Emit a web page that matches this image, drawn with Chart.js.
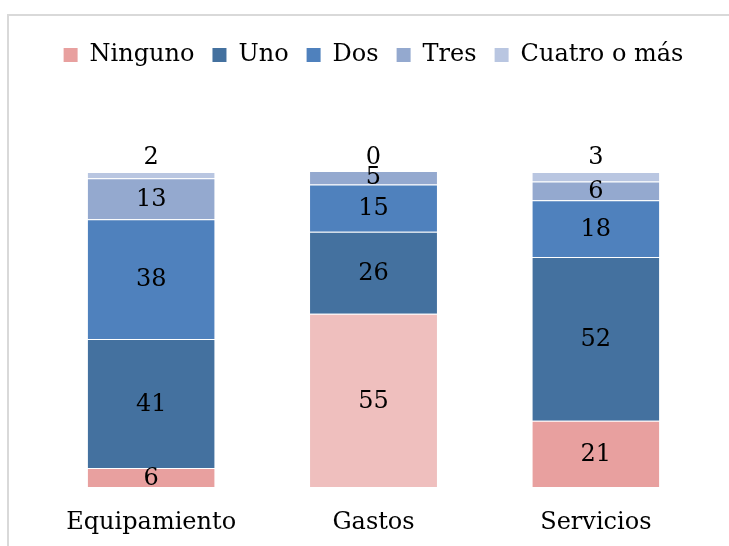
<!DOCTYPE html>
<html>
<head>
<meta charset="utf-8">
<script src="https://cdn.jsdelivr.net/npm/chart.js@4/dist/chart.umd.min.js"></script>
<style>
  html,body{margin:0;padding:0;background:#fff;}
  #wrap{width:729px;height:546px;}
</style>
</head>
<body>
<div id="wrap"><canvas id="c" width="729" height="546"></canvas></div>
<script>
const categories = ['Equipamiento', 'Gastos', 'Servicios'];
const seriesNames = ['Ninguno', 'Uno', 'Dos', 'Tres', 'Cuatro o más'];
const ninguno = [6, 55, 21];
const uno = [41, 26, 52];
const dos = [38, 15, 18];
const tres = [13, 5, 6];
const cuatro = [2, 0, 3];

const FONT = "'DejaVu Serif', 'Liberation Serif', serif";
const FS = 24;

const colNinguno = ['#e8a09f', '#efbfbe', '#e8a09f'];
const colors = ['#e8a09f', '#44719f', '#4f81bd', '#94a9cf', '#b9c6e1'];

function ds(label, data, bg) {
  return {
    label, data, backgroundColor: bg,
    borderColor: 'rgba(255,255,255,0.35)',
    borderWidth: {top: 1, left: 0, right: 0, bottom: 0},
    borderSkipped: false,
    categoryPercentage: 1.0,
    barPercentage: 0.571
  };
}

const frame = {
  id: 'frame',
  beforeDraw(chart) {
    const ctx = chart.ctx;
    ctx.save();
    ctx.fillStyle = '#fff';
    ctx.fillRect(0, 0, chart.width, chart.height);
    ctx.strokeStyle = '#d9d9d9';
    ctx.lineWidth = 2;
    ctx.beginPath();
    ctx.moveTo(8, 560);
    ctx.lineTo(8, 15);
    ctx.lineTo(740, 15);
    ctx.stroke();
    ctx.restore();
  }
};

const legendHeight = {
  id: 'legendHeight',
  beforeInit(chart) {
    const orig = chart.legend.fit;
    chart.legend.fit = function() {
      orig.call(this);
      this.height = 147;
    };
  }
};

const labels = {
  id: 'valLabels',
  afterDatasetsDraw(chart) {
    const ctx = chart.ctx;
    ctx.save();
    ctx.font = FS + 'px ' + FONT;
    ctx.fillStyle = '#000';
    ctx.textAlign = 'center';
    ctx.textBaseline = 'middle';
    const n = chart.data.datasets.length;
    chart.data.datasets.forEach((d, i) => {
      const meta = chart.getDatasetMeta(i);
      meta.data.forEach((el, j) => {
        const v = d.data[j];
        let y;
        if (i === n - 1) {
          y = Math.max(el.y, 172) - 14;
        } else {
          y = (el.y + el.base) / 2 + 1;
        }
        ctx.fillText(String(v), el.x, y);
      });
    });
    ctx.restore();
  }
};

new Chart(document.getElementById('c'), {
  type: 'bar',
  data: {
    labels: categories,
    datasets: [
      ds(seriesNames[0], ninguno, colNinguno),
      ds(seriesNames[1], uno, colors[1]),
      ds(seriesNames[2], dos, colors[2]),
      ds(seriesNames[3], tres, colors[3]),
      ds(seriesNames[4], cuatro, colors[4])
    ]
  },
  options: {
    responsive: false,
    animation: false,
    layout: {padding: {top: 25, left: 40, right: 22, bottom: 0}},
    plugins: {
      tooltip: {enabled: false},
      legend: {
        position: 'top',
        labels: {
          boxWidth: 14, boxHeight: 14, padding: 18,
          color: '#000',
          font: {family: FONT, size: FS},
          generateLabels(chart) {
            return chart.data.datasets.map((d, i) => ({
              text: d.label,
              fillStyle: colors[i],
              strokeStyle: colors[i],
              lineWidth: 0,
              datasetIndex: i,
              hidden: false
            }));
          }
        }
      }
    },
    scales: {
      x: {
        stacked: true,
        grid: {display: false, drawTicks: false},
        border: {display: false},
        ticks: {color: '#000', font: {family: FONT, size: FS}, padding: 21},
        afterFit(scale) { scale.height = 59; }
      },
      y: {
        stacked: true,
        display: false,
        min: 0, max: 100
      }
    }
  },
  plugins: [frame, legendHeight, labels]
});
</script>
</body>
</html>
